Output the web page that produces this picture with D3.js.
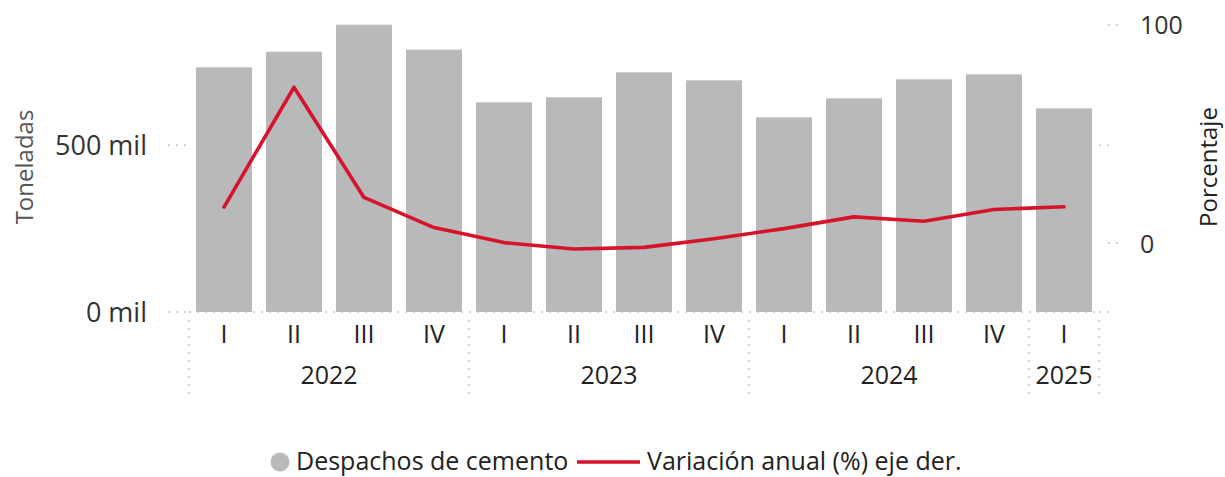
<!DOCTYPE html>
<html>
<head>
<meta charset="utf-8">
<script src="https://cdn.jsdelivr.net/npm/d3@7"></script>
<style>
	body { margin: 0; background: #fff; }
	svg text { font-family: "Open Sans", "Noto Sans", sans-serif; }
</style>
</head>
<body>
<svg id="chart" width="1225" height="477"></svg>
<script>

// quarters and years (x axis)
var quarters	= ["I", "II", "III", "IV", "I", "II", "III", "IV", "I", "II", "III", "IV", "I"];
var years		= ["2022", "2022", "2022", "2022", "2023", "2023", "2023", "2023", "2024", "2024", "2024", "2024", "2025"];

// despachos de cemento, miles de toneladas
var despachos	= [734, 781, 862, 787, 629, 644, 719, 695, 584, 641, 698, 713, 611];

// variacion anual, %
var variacion	= [16.6, 71.5, 21.0, 7.2, 0.3, -2.6, -1.9, 2.1, 6.7, 12.1, 10.1, 15.5, 16.7];

var leftTicks	= [0, 500];
var rightTicks	= [0, 100];

var svg = d3.select("#chart");

var plotLeft = 189, plotRight = 1099, plotTop = 22, plotBottom = 312;
var dotted = "2,6";
var gridColor = "#c4c4c4";

var keys = d3.range(quarters.length);

var xScale = d3.scaleBand()
	.domain(keys)
	.range([plotLeft, plotRight])
	.paddingInner(0.2)
	.paddingOuter(0.1);

var yLeft = d3.scaleLinear().domain([0, 870]).range([plotBottom, plotTop]);
var yRight = d3.scaleLinear().domain([-31.5, 101.4]).range([plotBottom, plotTop]);

/**
 * bars
 */
svg.append("g").selectAll(".bar")
	.data(keys)
	.enter()
	.append("rect")
		.attr("class", "bar")
		.attr("x", function(i) { return xScale(i); })
		.attr("y", function(i) { return yLeft(despachos[i]); })
		.attr("width", xScale.bandwidth())
		.attr("height", function(i) { return yLeft(0) - yLeft(despachos[i]); })
		.style("fill", "#b8b9bb");

/**
 * left axis: labels + short dotted stubs
 */
var yAxisL = d3.axisLeft(yLeft)
	.tickValues(leftTicks)
	.tickSize(0)
	.tickPadding(42)
	.tickFormat(function(d) { return d + " mil"; });

var gL = svg.append("g")
	.attr("class", "y axis")
	.attr("transform", "translate(" + plotLeft + ",0)")
	.call(yAxisL);
gL.select(".domain").remove();
gL.selectAll("text")
	.style("font-size", "27px")
	.style("fill", "#333")
	.attr("dy", "0.35em");

leftTicks.forEach(function(t)
{
	svg.append("line")
		.attr("x1", 168).attr("x2", plotLeft)
		.attr("y1", yLeft(t)).attr("y2", yLeft(t))
		.style("stroke", gridColor).style("stroke-width", 1.5)
		.style("stroke-dasharray", dotted);
	svg.append("line")
		.attr("x1", plotRight).attr("x2", 1111)
		.attr("y1", yLeft(t)).attr("y2", yLeft(t))
		.style("stroke", gridColor).style("stroke-width", 1.5)
		.style("stroke-dasharray", dotted);
});

// baseline dotted across the plot
svg.append("line")
	.attr("x1", plotLeft).attr("x2", plotRight)
	.attr("y1", yLeft(0)).attr("y2", yLeft(0))
	.style("stroke", gridColor).style("stroke-width", 1.5)
	.style("stroke-dasharray", dotted);

/**
 * right axis
 */
var yAxisR = d3.axisRight(yRight)
	.tickValues(rightTicks)
	.tickSize(0)
	.tickPadding(41);

var gR = svg.append("g")
	.attr("class", "y2 axis")
	.attr("transform", "translate(" + plotRight + ",0)")
	.call(yAxisR);
gR.select(".domain").remove();
gR.selectAll("text")
	.style("font-size", "25px")
	.style("fill", "#333")
	.attr("dy", "0.35em");

rightTicks.forEach(function(t)
{
	svg.append("line")
		.attr("x1", 1108).attr("x2", 1122)
		.attr("y1", yRight(t)).attr("y2", yRight(t))
		.style("stroke", gridColor).style("stroke-width", 1.5)
		.style("stroke-dasharray", dotted);
});

/**
 * axis titles
 */
svg.append("text")
	.attr("transform", "translate(33," + 167 + ") rotate(-90)")
	.attr("text-anchor", "middle")
	.style("font-size", "24px")
	.style("fill", "#555")
	.text("Toneladas");

svg.append("text")
	.attr("transform", "translate(1217," + 167 + ") rotate(-90)")
	.attr("text-anchor", "middle")
	.style("font-size", "24px")
	.style("fill", "#222")
	.text("Porcentaje");

/**
 * x axis: quarters + years with dotted separators
 */
var xAxis = d3.axisBottom(xScale)
	.tickSize(0)
	.tickPadding(13)
	.tickFormat(function(i) { return quarters[i]; });

var gX = svg.append("g")
	.attr("class", "x axis")
	.attr("transform", "translate(0," + plotBottom + ")")
	.call(xAxis);
gX.select(".domain").remove();
gX.selectAll("text")
	.style("font-size", "25px")
	.style("fill", "#222");

var step = xScale.step();
var groups = [];
years.forEach(function(y, i)
{
	var last = groups[groups.length - 1];
	if(last && last.year === y)
		last.end = i;
	else
		groups.push({ year: y, start: i, end: i });
});

groups.forEach(function(g)
{
	var x0 = xScale(g.start) - xScale.paddingInner() * step / 2;
	var x1 = xScale(g.end) + xScale.bandwidth() + xScale.paddingInner() * step / 2;

	svg.append("text")
		.attr("x", (x0 + x1) / 2)
		.attr("y", 384)
		.attr("text-anchor", "middle")
		.style("font-size", "25px")
		.style("fill", "#222")
		.text(g.year);

	svg.append("line")
		.attr("x1", x0).attr("x2", x0)
		.attr("y1", 320).attr("y2", 396)
		.style("stroke", gridColor).style("stroke-width", 1.5)
		.style("stroke-dasharray", dotted);
});

svg.append("line")
	.attr("x1", plotRight).attr("x2", plotRight)
	.attr("y1", 320).attr("y2", 396)
	.style("stroke", gridColor).style("stroke-width", 1.5)
	.style("stroke-dasharray", dotted);

/**
 * line (right axis)
 */
var line = d3.line()
	.x(function(i) { return xScale(i) + xScale.bandwidth() / 2; })
	.y(function(i) { return yRight(variacion[i]); });

svg.append("path")
	.datum(keys)
	.attr("d", line)
	.style("fill", "none")
	.style("stroke", "#d7132b")
	.style("stroke-width", 3.6)
	.style("stroke-linecap", "round")
	.style("stroke-linejoin", "round");

/**
 * legend
 */
var legendY = 461;
var legend = svg.append("g").attr("class", "legend");

legend.append("circle")
	.attr("cx", 280).attr("cy", legendY + 1).attr("r", 9.5)
	.style("fill", "#b8b9bb");

legend.append("text")
	.attr("x", 296).attr("y", legendY).attr("dy", "0.35em")
	.style("font-size", "25px")
	.style("fill", "#222")
	.text("Despachos de cemento");

legend.append("line")
	.attr("x1", 577).attr("x2", 640)
	.attr("y1", legendY + 1).attr("y2", legendY + 1)
	.style("stroke", "#d7132b")
	.style("stroke-width", 3.6);

legend.append("text")
	.attr("x", 647).attr("y", legendY).attr("dy", "0.35em")
	.style("font-size", "25px")
	.style("fill", "#222")
	.text("Variación anual (%) eje der.");

</script>
</body>
</html>
